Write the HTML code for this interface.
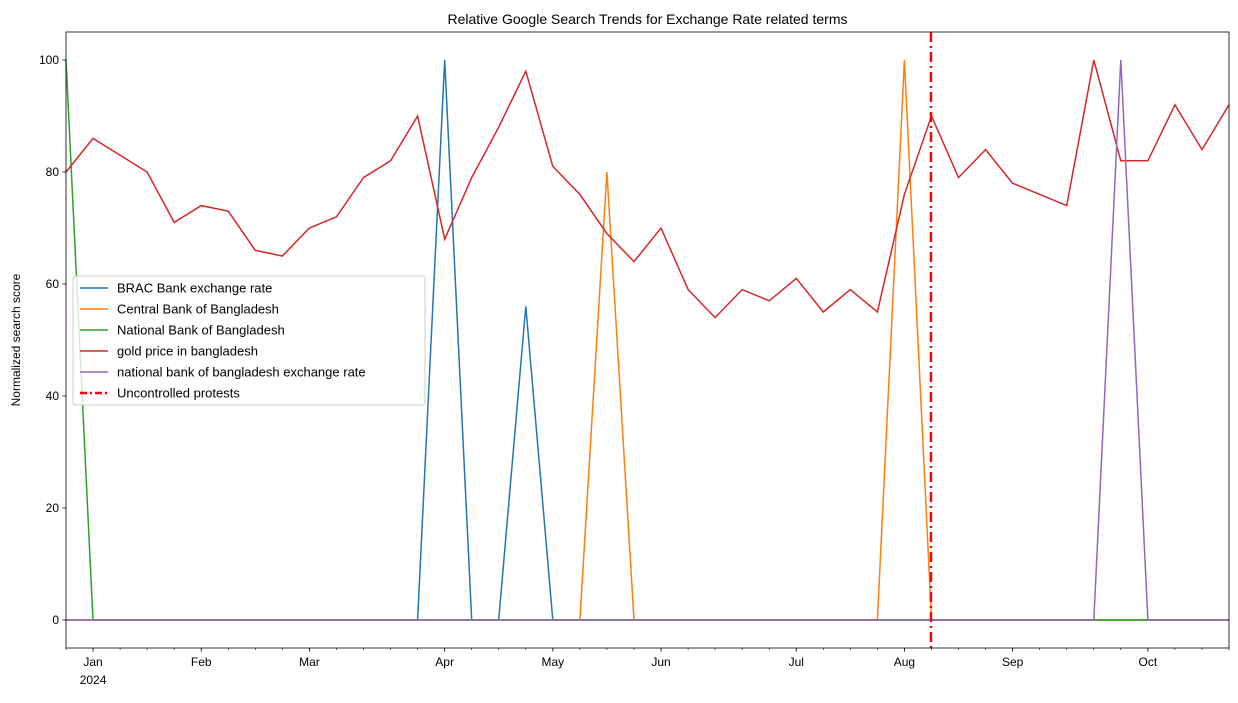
<!DOCTYPE html>
<html><head><meta charset="utf-8"><style>
body{margin:0;background:#fff;font-family:"Liberation Sans","DejaVu Sans",sans-serif;}
</style></head><body>
<svg id="c" width="1238" height="698" xmlns="http://www.w3.org/2000/svg"></svg>
<script>
const gold=[80,86,83,80,71,74,73,66,65,70,72,79,82,90,68,79,88,98,81,76,69,64,70,59,54,59,57,61,55,59,55,76,90,79,84,78,76,74,100,82,82,92,84,92];
const brac=[[14,100],[13,0],[15,0],[16,0],[17,56],[18,0]];
const central=[[20,80],[19,0],[21,0],[30,0],[31,100],[32,0]];
const national=[[0,100],[1,0]];
const natExch=[[38,0],[39,100],[40,0]];
const monthLabels=["Jan","Feb","Mar","Apr","May","Jun","Jul","Aug","Sep","Oct"];
const monthIdx=[1,5,9,14,18,22,27,31,35,40];
const yTicks=[0,20,40,60,80,100];
const protestIdx=31.98;
const seriesNames=["BRAC Bank exchange rate","Central Bank of Bangladesh","National Bank of Bangladesh","gold price in bangladesh","national bank of bangladesh exchange rate"];
const colors=["#1f77b4","#ff7f0e","#2ca02c","#d62728","#9467bd"];
const N=gold.length;
const L=66,R=1229,T=32,B=648;
const x=i=>L+i*(R-L)/(N-1);
const y=v=>B-(v+5)/110*(B-T);
const svg=document.getElementById('c');
const NS="http://www.w3.org/2000/svg";
function el(t,a,p){const e=document.createElementNS(NS,t);for(const k in a)e.setAttribute(k,a[k]);(p||svg).appendChild(e);return e;}
function full(sparse){const a=new Array(N).fill(0);sparse.forEach(([i,v])=>a[i]=v);return a;}
const all=[full(brac),full(central),full(national),gold,full(natExch)];
const order=[0,1,2,3,4];
order.forEach(s=>{const d=all[s].map((v,i)=>(i?'L':'M')+x(i).toFixed(1)+','+y(v).toFixed(1)).join('');
const p=el('path',{d:d,fill:'none',stroke:colors[s],'stroke-width':1.5});

});
const pl=el('line',{x1:x(protestIdx),x2:x(protestIdx),y1:T,y2:B,stroke:'#ff0000','stroke-width':2.5,'stroke-dasharray':'10,4,2,4'});

el('rect',{x:L,y:T,width:R-L,height:B-T,fill:'none',stroke:'#000','stroke-width':0.8});
for(let i=0;i<N;i++)el('line',{x1:x(i),x2:x(i),y1:B,y2:B+2,stroke:'#000','stroke-width':0.6});
monthIdx.forEach((mi,k)=>{el('line',{x1:x(mi),x2:x(mi),y1:B,y2:B+3.5,stroke:'#000','stroke-width':0.8});
const t=el('text',{x:x(mi),y:B+18,'text-anchor':'middle','font-size':12});t.textContent=monthLabels[k];
});
const yr=el('text',{x:x(1),y:B+36,'text-anchor':'middle','font-size':12});yr.textContent="2024";
yTicks.forEach(v=>{el('line',{x1:L-3.5,x2:L,y1:y(v),y2:y(v),stroke:'#000','stroke-width':0.8});
const t=el('text',{x:L-7,y:y(v)+4,'text-anchor':'end','font-size':12});t.textContent=v;
});
const yt=el('text',{x:20,y:(T+B)/2,'text-anchor':'middle','font-size':12,transform:`rotate(-90 20 ${(T+B)/2})`});yt.textContent="Normalized search score";

const tt=el('text',{x:(L+R)/2,y:24,'text-anchor':'middle','font-size':14});tt.textContent="Relative Google Search Trends for Exchange Rate related terms";

const lg=el('g',{});
el('rect',{x:73,y:276,width:352,height:129,rx:3,fill:'#fff','fill-opacity':0.8,stroke:'#ccc'},lg);
const names=seriesNames.concat(["Uncontrolled protests"]);
names.forEach((n,k)=>{const yy=288+k*21;
const ln=el('line',{x1:80,x2:108,y1:yy,y2:yy,stroke:k<5?colors[k]:'#ff0000','stroke-width':k<5?1.5:2.5},lg);
if(k==5)ln.setAttribute('stroke-dasharray','7,3,2,3');
const t=el('text',{x:117,y:yy+4.5,'font-size':13},lg);t.textContent=n;
});
</script>
</body></html>
